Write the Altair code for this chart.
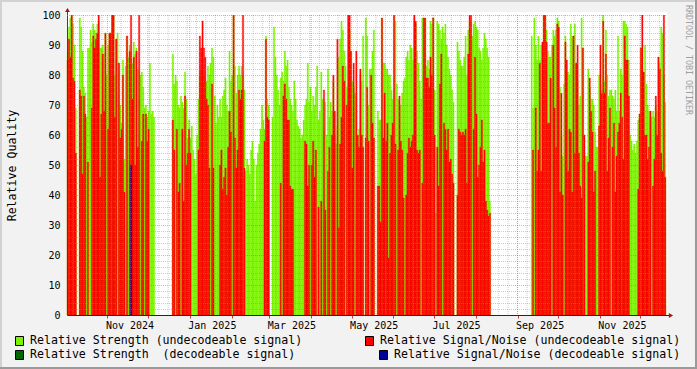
import altair as alt
import pandas as pd

N = None
FONT = "DejaVu Sans Mono"
START = "2024-10-02"      # first day at the left edge of the plot
SPAN_DAYS = 444.8         # days covered by the x axis

# daily values, day 0 = START
GREEN = [  # Relative Strength (undecodeable signal)
    88, 96, 99, 100, 97, 90, 69, N, N, 99,      # 0-9
    96, 88, 76, 74, 66, 89, 89, 95, 91, 97,     # 10-19
    95, 94, 97, 98, 89, 89, 90, 87, 94, 80,     # 20-29
    90, 94, 94, 100, 100, 80, 92, 94, 84, 70,   # 30-39
    64, 85, 52, 83, 93, 86, 90, 88, 84, 91,     # 40-49
    87, 89, 82, 72, 80, 81, 76, 69, 70, 66,     # 50-59
    68, 84, 67, 68, 66, N, N, N, N, N,          # 60-69
    N, N, N, N, N, N, N, N, 87, 77,             # 70-79
    80, 78, 70, 69, 73, 71, 69, 81, 72, 59,     # 80-89
    65, 59, 63, 55, 52, 47, 60, 72, 80, 82,     # 90-99
    78, 80, 78, 78, 83, 80, 84, 89, 86, 73,     # 100-109
    64, 70, 66, 72, 66, 73, 75, 79, 70, 68,     # 110-119
    88, 78, 80, 100, 83, 74, 80, 83, 80, 83,    # 120-129
    80, 75, 48, 52, 50, 47, 55, 58, 52, 38,     # 130-139
    50, 54, 57, 62, 70, 65, 62, 93, 72, 70,     # 140-149
    N, N, 66, 96, 86, 80, 75, 70, 79, 81,       # 150-159
    78, 88, 83, 85, 76, 72, 70, 68, 78, 72,     # 160-169
    65, 63, 62, 59, 60, 65, 70, 72, 84, 71,     # 170-179
    76, 68, 73, 70, 76, 83, 65, 68, 81, 72,     # 180-189
    62, 71, 60, 82, 66, 71, 68, 78, 60, 57,     # 190-199
    63, 86, 92, 98, 95, 88, 83, 76, 74, 95,     # 200-209
    88, 78, 76, 74, 73, 60, 62, 80, 78, 93,     # 210-219
    N, 99, 93, 70, 82, 82, 88, 95, N, N,        # 220-229
    68, 65, 65, 99, 84, 84, 82, 82, 80, 80,     # 230-239
    75, 72, 100, 98, 77, 72, 65, 70, 74, 78,    # 240-249
    79, 86, 88, 85, 90, 89, 85, 99, 97, 88,     # 250-259
    84, 78, 72, 99, 98, 99, 83, 85, 82, 98,     # 260-269
    97, 99, 75, 34, 98, 97, 95, 92, 96, 94,     # 270-279
    97, 90, 86, 82, 80, 75, 71, N, N, 91,       # 280-289
    88, 85, 83, 83, 86, 93, 80, 95, 98, 98,     # 290-299
    93, 97, 98, 96, 95, 89, 88, 85, 89, 94,     # 300-309
    92, 89, 86, 38, N, N, N, N, N, N,           # 310-319
    N, N, N, N, N, N, N, N, N, N,               # 320-329
    N, N, N, N, N, N, N, N, N, N,               # 330-339
    N, N, N, N, 93, 69, 99, 90, 85, 93,         # 340-349
    85, 90, 90, 100, 100, 95, 88, 86, 86, 90,   # 350-359
    95, 93, 95, 99, 98, 76, 60, 53, 77, 93,     # 360-369
    81, 81, 80, 97, 93, 92, 97, 84, 78, 70,     # 370-379
    73, 99, 89, 60, 53, 53, 82, 76, 72, 72,     # 380-389
    70, 61, 56, 56, 80, 77, 75, 100, 78, 95,    # 390-399
    80, 73, 75, 75, 73, 72, 75, 68, 93, 68,     # 400-409
    82, 80, 98, 98, 97, 96, 85, 60, 58, 55,     # 410-419
    57, 54, 58, 65, 67, 89, 80, 81, 90, 77,     # 420-429
    70, 68, 65, 66, 68, 66, 70, 68, 86, 84,     # 430-439
    96, 94, 80, 71,                             # 440-443
]

RED = [  # Relative Signal/Noise (undecodeable signal)
    85, 92, 86, 100, 79, 78, 54, N, N, 75,      # 0-9
    73, 47, 73, 67, N, 51, N, N, 69, 93,        # 10-19
    89, 92, 94, 100, 46, 67, 87, 68, 94, N,     # 20-29
    62, 94, 94, 100, 100, 66, 92, N, 84, 59,    # 30-39
    62, 80, 41, N, 93, N, 88, 100, 72, 86,      # 40-49
    50, 88, 56, 100, N, 58, 67, N, 67, 58,      # 50-59
    62, N, N, N, N, N, N, N, N, N,              # 60-69
    N, N, N, N, N, N, N, N, 65, 55,             # 70-79
    N, 62, 41, 44, N, 62, 38, 73, 50, 54,       # 80-89
    62, 54, N, N, N, N, N, 55, 93, 89,          # 90-99
    98, 89, 86, 72, 70, 49, N, 77, 49, N,       # 100-109
    N, N, N, 50, 55, 42, 46, 49, 40, 56,        # 110-119
    68, 61, N, 100, 59, 49, 55, 75, 72, 75,     # 120-129
    100, 49, N, N, N, N, N, N, N, N,            # 130-139
    N, N, N, N, N, N, 58, 92, 66, 65,           # 140-149
    N, N, N, N, N, N, N, N, 44, N,              # 150-159
    73, 77, 72, 65, 65, 43, 42, 42, N, N,       # 160-169
    N, N, N, N, N, N, 58, 57, 43, 50,           # 170-179
    N, 50, 58, 46, 55, N, 36, N, 38, N,         # 180-189
    75, 35, N, 48, 56, N, 60, 80, 68, N,        # 190-199
    92, 29, 57, 66, 83, 78, N, 70, 100, 100,    # 200-209
    88, 49, 84, N, 88, 60, 56, 82, 60, 56,      # 210-219
    N, 59, 76, 58, N, 80, 64, 59, N, N,         # 220-229
    43, 43, 31, 99, 59, 74, 58, 64, 19, 54,     # 230-239
    60, 64, 100, 57, N, 55, 73, 58, 55, 39,     # 240-249
    N, 40, 54, 59, 56, 58, 60, 100, 98, 55,     # 250-259
    54, 55, N, 44, 99, 99, 79, 79, 76, 86,      # 260-269
    80, 99, 60, N, 56, 43, 77, 87, N, 64,       # 270-279
    62, 55, 62, 51, 52, 47, 44, N, N, 40,       # 280-289
    62, 61, 60, 61, 60, 62, 44, 87, 100, 100,   # 290-299
    N, 62, 86, 67, 46, 50, 56, 65, 51, 55,      # 300-309
    38, 35, 33, 34, N, N, N, N, N, N,           # 310-319
    N, N, N, N, N, N, N, N, N, N,               # 320-329
    N, N, N, N, N, N, N, N, N, N,               # 330-339
    N, N, N, N, N, 55, N, 69, 48, 55,           # 340-349
    84, 48, 91, 100, 100, 91, 64, 64, 79, N,    # 350-359
    90, 69, 56, 97, 96, 41, 74, 40, N, 91,      # 360-369
    85, 48, 62, 61, 41, 93, 54, 84, 90, 54,     # 370-379
    43, 39, 89, 60, N, N, 51, 79, 68, 61,       # 380-389
    41, 48, N, N, 63, 90, 74, 98, 74, 87,       # 390-399
    48, 59, 69, N, 56, 64, 41, 53, 61, 64,      # 400-409
    74, 66, 52, 93, 85, 85, 73, N, N, N,        # 410-419
    N, N, N, 42, 67, 89, 100, 81, 60, 60,       # 420-429
    52, 56, 68, N, 43, 52, 73, 60, 86, 82,      # 430-439
    54, 48, 100, 46,                            # 440-443
]

BLUE_DAYS = [47]   # Relative Signal/Noise (decodeable signal)
BLUE = [50]

SERIES_LABELS = [
    "Relative Strength (undecodeable signal)",
    "Relative Signal/Noise (undecodeable signal)",
    "Relative Strength \u00a0(decodeable signal)",
    "Relative Signal/Noise (decodeable signal)",
]
SERIES_COLORS = ["#7CF400", "#FF0000", "#006600", "#000099"]
Y_TICKS = list(range(0, 101, 10))
Y_TITLE = "Relative Quality"
WATERMARK = "RRDTOOL / TOBI OETIKER"

assert len(GREEN) == len(RED)

DAY = 86_400_000
T0 = int(pd.Timestamp(START, tz="UTC").timestamp() * 1000)
T_END = T0 + int(SPAN_DAYS * DAY)


def bars(values, days=None):
    days = list(range(len(values))) if days is None else days
    rows = [{"t0": T0 + d * DAY, "t1": T0 + (d + 1) * DAY, "v": v}
            for d, v in zip(days, values) if v is not None]
    return pd.DataFrame(rows)


MONTHS = [int(ts.timestamp() * 1000) for ts in
          pd.date_range("2024-11-01", "2025-12-01", freq="MS", tz="UTC")]
WEEKS = [int(ts.timestamp() * 1000) for ts in
         pd.date_range("2024-10-07", "2025-12-20", freq="7D", tz="UTC")]

XS = alt.Scale(type="utc", domain=[T0, T_END], nice=False)
YS = alt.Scale(domain=[0, 100], nice=False, zero=True)

x_axis = alt.Axis(
    values=MONTHS,
    labelExpr="utcmonth(datum.value) % 2 == 0 ? utcFormat(datum.value, '%b %Y') : ''",
    grid=False, tickSize=3, tickColor="#C04040", domainColor="#20204a",
    labelFont=FONT, labelFontSize=10, labelColor="#000000",
    labelAlign="left", labelOffset=-2, labelPadding=2,
    labelOverlap=False, labelFlush=False, zindex=1,
)
y_axis = alt.Axis(
    values=Y_TICKS, ticks=False, grid=False, labelPadding=7,
    labelFont=FONT, labelFontSize=10, labelColor="#000000",
    domainColor="#404040", title=Y_TITLE, titleFont=FONT, titleFontSize=11.6,
    titleFontWeight="normal", titleColor="#000000", titleX=-55, titleY=150,
    titleAngle=270, titleAlign="center", titleBaseline="middle", zindex=1,
)


def series(df, color, axes=False):
    return alt.Chart(df).mark_rect(color=color, stroke=color, strokeWidth=0.3).encode(
        x=alt.X("t0:T", scale=XS, axis=x_axis if axes else None, title=None),
        x2="t1",
        y=alt.Y("v:Q", scale=YS, axis=y_axis if axes else None),
        y2=alt.datum(0),
    )


green = series(bars(GREEN), SERIES_COLORS[0], axes=True)
red = series(bars(RED), SERIES_COLORS[1])
blue = series(bars(BLUE, BLUE_DAYS), SERIES_COLORS[3])


def hgrid(vals, color):
    return alt.Chart(pd.DataFrame({"v": vals})).mark_rule(
        color=color, strokeDash=[1, 1], strokeWidth=1, opacity=0.45, yOffset=0.5
    ).encode(y=alt.Y("v:Q", scale=YS, axis=None), x=alt.value(0), x2=alt.value(600))


def vgrid(vals, color):
    return alt.Chart(pd.DataFrame({"t": vals})).mark_rule(
        color=color, strokeDash=[1, 1], strokeWidth=1, opacity=0.45
    ).encode(x=alt.X("t:T", scale=XS, axis=None), y=alt.value(0), y2=alt.value(300))


grid_layers = [
    hgrid([v for v in range(2, 100, 2) if v % 10], "#8F8F8F"),
    vgrid(WEEKS, "#8F8F8F"),
    hgrid(list(range(10, 101, 10)), "#E94040"),
    vgrid(MONTHS, "#E94040"),
]

ONE = pd.DataFrame({"k": [0]})


def box(x, x2, y, y2, color, **kw):
    return alt.Chart(ONE).mark_rect(color=color, **kw).encode(
        x=alt.value(x), x2=alt.value(x2), y=alt.value(y), y2=alt.value(y2))


def label(text, x, y, **kw):
    return alt.Chart(pd.DataFrame({"label": [text]})).mark_text(
        font=FONT, align="left", baseline="middle", **kw
    ).encode(text="label:N", x=alt.value(x), y=alt.value(y))


decor = [
    box(0, 600, -3, 0, "#FFFFFF"),
    # frame shading
    box(-67, 630, -15, -13, "#D2D2D2"),
    box(-67, -65, -15, 354, "#D2D2D2"),
    box(-67, 630, 352, 354, "#9A9A9A"),
    box(628, 630, -15, 354, "#9A9A9A"),
    # axis arrows
    alt.Chart(ONE).mark_rule(color="#404040").encode(
        x=alt.value(0.5), y=alt.value(-4), y2=alt.value(0)),
    alt.Chart(ONE).mark_rule(color="#20204a").encode(
        x=alt.value(600), x2=alt.value(604), y=alt.value(300.5)),
    alt.Chart(ONE).mark_point(shape="triangle-up", filled=True, size=24,
                              color="#A01818", opacity=1).encode(
        x=alt.value(0.5), y=alt.value(-5)),
    alt.Chart(ONE).mark_point(shape="triangle-right", filled=True, size=24,
                              color="#A01818", opacity=1).encode(
        x=alt.value(604), y=alt.value(300.5)),
    label(WATERMARK, 621, -10, angle=90, fontSize=8.3, color="#A0A0A0"),
]

LEGEND_LAYOUT = [(-51.5, 321.5, -37, 326), (298.5, 321.5, 313, 326),
                 (-51.5, 335.5, -37, 340), (312.5, 335.5, 327, 340)]
legend = []
for text, color, (sx, sy, tx, ty) in zip(SERIES_LABELS, SERIES_COLORS, LEGEND_LAYOUT):
    legend.append(box(sx, sx + 8, sy, sy + 9, color, stroke="#000000", strokeWidth=1))
    legend.append(label(text, tx, ty, fontSize=11.6, color="#000000"))

chart = alt.layer(green, red, blue, *grid_layers, *decor, *legend).resolve_axis(
    x="independent", y="independent"
).properties(
    width=600, height=300, background="#F2F2F2",
    padding={"left": 67, "top": 15, "right": 30, "bottom": 54},
    autosize=alt.AutoSizeParams(type="none"),
).configure_view(fill="#FFFFFF", stroke="transparent")

chart.save("out.html", embed_options={"renderer": "svg", "actions": False})
